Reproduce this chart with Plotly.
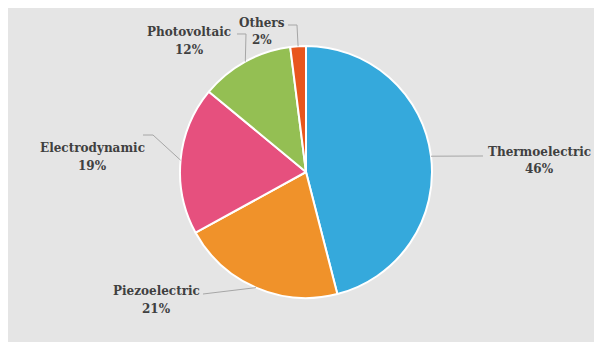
import math
import plotly.graph_objects as go

# ---- data ----
labels = ["Thermoelectric", "Piezoelectric", "Electrodynamic", "Photovoltaic", "Others"]
values = [46, 21, 19, 12, 2]
colors = ["#35a9dc", "#f0922a", "#e6507e", "#94bf53", "#e8561d"]

# ---- layout constants (page pixels; the page body adds an 8px margin) ----
OX, OY = 8, 8
W, H = 594, 334
CX, CY, R = 306, 172, 126
LABEL_LINE1 = [(539, 152), (156, 291), (93, 148), (189, 32), (262, 23)]
LINE_GAP = 17.5
LEADER_BENDS = [
    [(483, 156)],
    [(203, 294)],
    [(153, 135), (143, 135)],
    [(246, 34), (237, 34)],
    [(297, 25), (288, 25)],
]
TEXT_COLOR = "#404040"
LINE_COLOR = "#a6a6a6"
FONT = "DejaVu Serif"


def px(x, y):
    return (x - OX) / W, 1 - (y - OY) / H


d0 = px(CX - R, CY + R)
d1 = px(CX + R, CY - R)
fig = go.Figure(
    go.Pie(
        labels=labels,
        values=values,
        marker=dict(colors=colors, line=dict(color="white", width=2)),
        sort=False,
        direction="clockwise",
        rotation=0,
        textinfo="none",
        hoverinfo="label+percent",
        domain=dict(x=[d0[0], d1[0]], y=[d0[1], d1[1]]),
        showlegend=False,
    )
)

total = sum(values)
shapes = []
annotations = []
cum = 0
for i, (lab, v) in enumerate(zip(labels, values)):
    mid = (cum + v / 2) / total * 2 * math.pi
    cum += v
    ax = CX + R * math.sin(mid)
    ay = CY - R * math.cos(mid)
    pts = [(ax, ay)] + LEADER_BENDS[i]
    path = ""
    for j, (x, y) in enumerate(pts):
        X, Y = px(x, y)
        path += ("M" if j == 0 else " L") + f" {X:.5f},{Y:.5f}"
    shapes.append(dict(type="path", xref="paper", yref="paper", path=path,
                       line=dict(color=LINE_COLOR, width=1)))
    lx, ly = LABEL_LINE1[i]
    for k, txt in enumerate([lab, f"{round(v / total * 100)}%"]):
        X, Y = px(lx, ly + k * LINE_GAP)
        annotations.append(dict(
            x=X, y=Y, xref="paper", yref="paper", xanchor="center", yanchor="middle",
            text=f"<b>{txt}</b>", showarrow=False,
            font=dict(family=FONT, size=12, color=TEXT_COLOR),
        ))

fig.update_layout(
    width=W, height=H,
    margin=dict(l=0, r=0, t=0, b=0),
    paper_bgcolor="#e5e5e5",
    shapes=shapes,
    annotations=annotations,
)

fig.write_html("out.html")
